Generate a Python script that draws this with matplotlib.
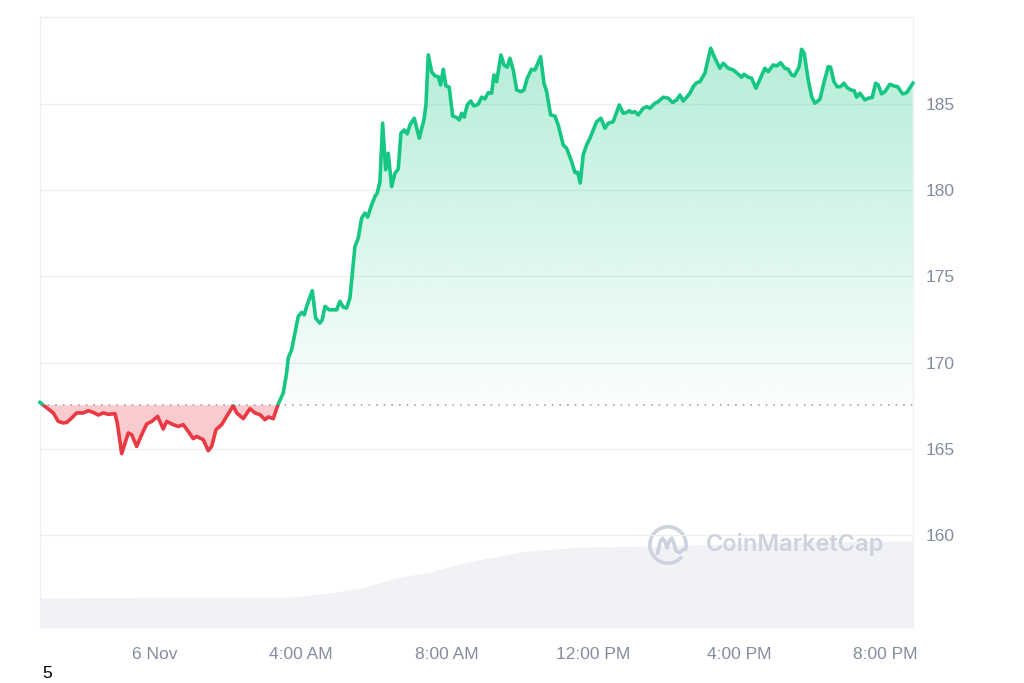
import numpy as np
import matplotlib
matplotlib.use("Agg")
import matplotlib.pyplot as plt
from matplotlib.patches import Rectangle, Arc
from matplotlib.path import Path

plt.rcParams['font.family'] = ['Liberation Sans', 'DejaVu Sans']

# price series, hours from 00:00 6 Nov
hours = [
    -3.150, -2.923, -2.786, -2.649, -2.512, -2.419, -2.282, -2.145, -1.964, -1.827,
    -1.690, -1.553, -1.416, -1.279, -1.096, -1.033, -0.912, -0.732, -0.638, -0.501,
    -0.364, -0.227, -0.090, 0.074, 0.227, 0.321, 0.501, 0.638, 0.775, 0.912,
    1.049, 1.142, 1.323, 1.460, 1.553, 1.671, 1.827, 1.964, 2.145, 2.238,
    2.419, 2.603, 2.740, 2.877, 3.014, 3.104, 3.241, 3.378,
    3.515, 3.608, 3.652, 3.745, 3.836, 3.926, 4.019, 4.090, 4.156, 4.310,
    4.403, 4.521, 4.584, 4.658, 4.775, 4.978, 5.068, 5.159, 5.252, 5.342,
    5.416, 5.479, 5.570, 5.663, 5.753, 5.827, 5.937, 6.027, 6.090, 6.164,
    6.238, 6.321, 6.392, 6.485, 6.575, 6.666, 6.740, 6.830, 6.912, 6.986,
    7.104, 7.241, 7.370,
    7.425, 7.488, 7.581, 7.671, 7.762, 7.827, 7.899, 7.973, 8.063, 8.156,
    8.266, 8.337, 8.403, 8.474, 8.556, 8.649, 8.740, 8.858, 8.951, 9.041,
    9.132, 9.225, 9.288, 9.362, 9.479, 9.562, 9.652, 9.726, 9.816, 9.910,
    10.027, 10.110, 10.200, 10.321, 10.411, 10.567, 10.658, 10.732, 10.841, 10.959,
    11.049, 11.186, 11.279, 11.416, 11.507, 11.581, 11.652, 11.734, 11.827,
    11.918, 12.101, 12.219, 12.329, 12.419, 12.556, 12.721, 12.830, 12.923, 12.995,
    13.060, 13.151, 13.241, 13.378, 13.471, 13.562, 13.699, 13.789, 13.926, 14.063,
    14.184, 14.293, 14.384, 14.474, 14.567, 14.658, 14.748, 14.841, 14.932, 15.068,
    15.225, 15.342, 15.479, 15.570, 15.707, 15.844, 15.953,
    16.074, 16.137, 16.255, 16.348, 16.466, 16.575, 16.712, 16.803, 16.940, 17.033,
    17.142, 17.260, 17.351, 17.444, 17.515, 17.581, 17.652, 17.718, 17.789, 17.899,
    17.992, 18.082, 18.219, 18.337, 18.447, 18.512, 18.603, 18.693, 18.786, 18.877,
    18.967, 19.068, 19.159, 19.225, 19.315, 19.452, 19.542, 19.652, 19.745, 19.816,
    19.910, 20.000, 20.137, 20.247, 20.348, 20.485, 20.595, 20.767,
]
prices = [
    167.69, 167.31, 167.08, 166.59, 166.50, 166.53, 166.79, 167.08, 167.08, 167.21,
    167.11, 166.96, 167.08, 167.00, 167.04, 166.50, 164.72, 165.92, 165.82, 165.14,
    165.82, 166.44, 166.59, 166.88, 166.15, 166.59, 166.40, 166.30, 166.40, 166.01,
    165.59, 165.72, 165.53, 164.89, 165.14, 166.11, 166.40, 166.88, 167.50, 167.08,
    166.75, 167.33, 167.08, 166.98, 166.69, 166.85, 166.75, 167.60,
    168.24, 169.40, 170.27, 170.75, 171.71, 172.68, 172.91, 172.77, 173.26, 174.17,
    172.58, 172.29, 172.49, 173.26, 173.06, 173.06, 173.55, 173.22, 173.16, 173.74,
    175.38, 176.73, 177.22, 178.38, 178.67, 178.44, 179.15, 179.63, 179.83, 180.50,
    183.88, 181.18, 182.14, 180.21, 180.98, 181.22, 183.30, 183.49, 183.26, 183.78,
    184.17, 183.01, 184.07,
    184.94, 187.84, 186.87, 186.62, 186.58, 186.10, 187.01, 186.04, 185.97, 184.30,
    184.21, 184.07, 184.46, 184.23, 184.94, 185.17, 184.88, 184.98, 185.39, 185.29,
    185.65, 185.62, 186.68, 186.29, 187.84, 187.26, 187.13, 187.65, 186.97, 185.81,
    185.71, 185.81, 186.49, 187.01, 186.97, 187.74, 186.20, 185.71, 184.36, 184.30,
    183.78, 182.62, 182.43, 181.66, 181.02, 181.04, 180.41, 182.05, 182.62,
    183.01, 183.97, 184.17, 183.59, 183.88, 183.97, 184.94, 184.46, 184.50, 184.61,
    184.50, 184.55, 184.36, 184.75, 184.84, 184.75, 185.04, 185.13, 185.39, 185.33,
    185.08, 185.23, 185.52, 185.17, 185.39, 185.62, 186.00, 186.23, 186.29, 186.78,
    188.23, 187.65, 187.07, 187.36, 187.07, 186.97, 186.78,
    186.55, 186.72, 186.55, 186.49, 185.91, 186.43, 187.07, 186.87, 187.26, 187.20,
    187.39, 187.07, 187.01, 186.68, 186.62, 186.87, 187.16, 188.17, 187.94, 186.39,
    185.42, 185.04, 185.27, 186.29, 187.16, 187.13, 186.29, 186.00, 186.00, 186.20,
    185.94, 185.81, 185.77, 185.39, 185.62, 185.23, 185.33, 185.37, 186.20, 186.10,
    185.58, 185.71, 186.14, 186.04, 186.00, 185.58, 185.65, 186.20,
]
open_price = 167.56

# volume (arbitrary units, drawn on its own scale)
vol_hours = [-3.15, -0.14, 3.70, 4.79, 5.70, 6.58, 7.53, 8.55, 10.19, 11.64, 13.56, 17.59, 20.77]
volume = [0.98, 1.01, 1.01, 1.15, 1.31, 1.64, 1.83, 2.16, 2.52, 2.65, 2.68, 2.82, 2.85]

tick_hours = [0, 4, 8, 12, 16, 20]
tick_labels = ['6 Nov', '4:00 AM', '8:00 AM', '12:00 PM', '4:00 PM', '8:00 PM']
price_ticks = [160, 165, 170, 175, 180, 185]

t = np.array(hours)
p = np.array(prices)
assert len(t) == len(p)

green = '#16c784'
red = '#ea3943'
label_col = '#858ca0'
xmin, xmax = -3.15, 20.77
ymin, ymax = 154.61, 190.04

fig = plt.figure(figsize=(10.24, 6.83), dpi=100)
ax = fig.add_axes([40/1024, 1-628/683, 873/1024, 611/683])

# volume behind everything
axv = ax.twinx()
axv.fill_between(vol_hours, volume, 0, color='#f0f2f5', lw=0)
axv.set_ylim(0, 20)
axv.axis('off')
ax.set_zorder(axv.get_zorder() + 1)
ax.patch.set_visible(False)

ax.set_xlim(xmin, xmax)
ax.set_ylim(ymin, ymax)

# fills
up = ax.fill_between(t, p, open_price, where=p >= open_price, interpolate=True,
                     color='none', lw=0)
ax.fill_between(t, p, open_price, where=p <= open_price, interpolate=True,
                color=red, alpha=0.26, lw=0)

top = p.max()
grad = np.zeros((256, 1, 4))
grad[:, 0, 0] = 22/255
grad[:, 0, 1] = 199/255
grad[:, 0, 2] = 132/255
grad[:, 0, 3] = np.linspace(0.32, 0.02, 256)
im = ax.imshow(grad, extent=[xmin, xmax, open_price, top], aspect='auto',
               origin='upper', zorder=1, interpolation='bilinear')
clip = Path.make_compound_path(*up.get_paths())
im.set_clip_path(clip, transform=ax.transData)
ax.set_xlim(xmin, xmax)
ax.set_ylim(ymin, ymax)

# price line, coloured by side of the opening price
big = 100
lg, = ax.plot(t, p, color=green, lw=2.6, zorder=3, solid_joinstyle='round')
lg.set_clip_path(Rectangle((xmin - 1, open_price), xmax - xmin + 2, big,
                           transform=ax.transData))
lr, = ax.plot(t, p, color=red, lw=2.6, zorder=3, solid_joinstyle='round')
lr.set_clip_path(Rectangle((xmin - 1, open_price - big), xmax - xmin + 2, big,
                           transform=ax.transData))

ax.axhline(open_price, color='#8f96a8', lw=1.1, ls=(0, (1, 4)), zorder=2)

# axes styling
ax.set_yticks(price_ticks)
ax.set_xticks(tick_hours)
ax.set_xticklabels(tick_labels)
ax.yaxis.tick_right()
ax.tick_params(axis='y', length=0, pad=9, labelsize=12.5, labelcolor=label_col)
ax.tick_params(axis='x', length=0, pad=14, labelsize=12.5, labelcolor=label_col)
ax.grid(axis='y', color='#eef0f3', lw=1)
ax.set_axisbelow(True)
for s in ['left', 'right', 'top']:
    ax.spines[s].set_color('#eef0f3')
    ax.spines[s].set_linewidth(1)
ax.spines['bottom'].set_visible(False)

# watermark
fig.text(795/1024, 1-545/683, 'CoinMarketCap', ha='center', va='center',
         fontsize=17, color='#ccd3df', family=['Inter', 'DejaVu Sans'],
         weight='semibold')
lax = fig.add_axes([(668-22)/1024, 1-(545+22)/683, 44/1024, 44/683])
lax.set_xlim(-1.15, 1.15)
lax.set_ylim(-1.15, 1.15)
lax.set_aspect('equal')
lax.axis('off')
lax.add_patch(Arc((0, 0), 1.9, 1.9, theta1=-20, theta2=320, color='#ccd3df', lw=2.6))
lax.plot([-0.55, -0.4, -0.28, -0.15, -0.05, 0.08, 0.2, 0.3, 0.42, 0.6, 0.85],
         [-0.45, 0.2, 0.35, 0.15, -0.15, 0.25, 0.35, 0.1, -0.3, -0.4, -0.2],
         color='#ccd3df', lw=2.6, solid_capstyle='round')

fig.text(47/1024, 1-673/683, '5', ha='center', va='center', fontsize=12.5, color='black')

fig.savefig('out.png', dpi=100)
